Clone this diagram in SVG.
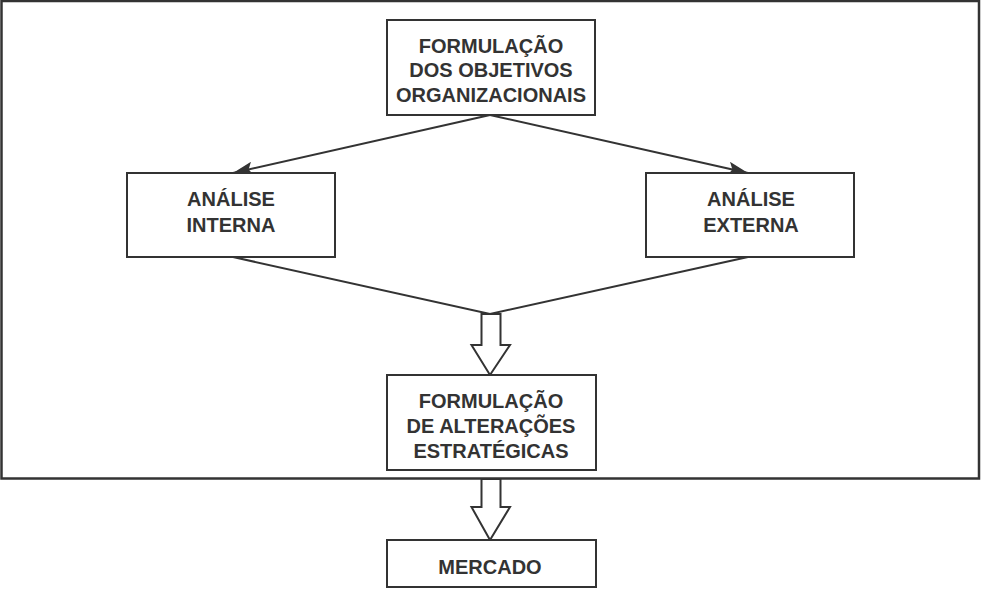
<svg xmlns="http://www.w3.org/2000/svg" width="981" height="589" viewBox="0 0 981 589">
<defs>
<style>
.box{fill:#fff;stroke:#333;stroke-width:2}
.ln{fill:none;stroke:#333;stroke-width:2}
.hollow{fill:#fff;stroke:#333;stroke-width:2;stroke-linejoin:miter}
text{font-family:"Liberation Sans",Arial,sans-serif;font-weight:bold;font-size:20px;fill:#333;text-anchor:middle}
</style>
<marker id="ah" markerWidth="22" markerHeight="14" refX="20" refY="7" orient="auto" markerUnits="userSpaceOnUse">
<path d="M0,0 L20,7 L0,14 L4,7 Z" fill="#333"/>
</marker>
</defs>
<rect width="981" height="589" fill="#fff"/>
<rect x="1.5" y="1" width="977.5" height="477.5" fill="none" stroke="#333" stroke-width="2.5"/>
<g id="connectors">
<line class="ln" x1="490" y1="115" x2="233" y2="173" marker-end="url(#ah)"/>
<line class="ln" x1="490" y1="115" x2="748" y2="173" marker-end="url(#ah)"/>
<polyline class="ln" points="233,257 490,314 748,257"/>
<path class="hollow" d="M481.5,314 L500.5,314 L500.5,345 L510,345 L490,375 L471.5,345 L481.5,345 Z"/>
<path class="hollow" d="M481.5,479 L500.5,479 L500.5,507 L510,507 L490,540 L471.5,507 L481.5,507 Z"/>
</g>
<g id="n1">
<rect class="box" x="387" y="20" width="208" height="95"/>
<text x="491" y="52.5">FORMULAÇÃO</text>
<text x="491" y="77">DOS OBJETIVOS</text>
<text x="491" y="101.5">ORGANIZACIONAIS</text>
</g>
<g id="n2">
<rect class="box" x="127" y="173" width="208" height="84"/>
<text x="231" y="206">ANÁLISE</text>
<text x="231" y="232">INTERNA</text>
</g>
<g id="n3">
<rect class="box" x="646" y="173" width="208" height="84"/>
<text x="751" y="206">ANÁLISE</text>
<text x="751" y="232">EXTERNA</text>
</g>
<g id="n4">
<rect class="box" x="387" y="375" width="209" height="95"/>
<text x="491" y="408">FORMULAÇÃO</text>
<text x="491" y="433">DE ALTERAÇÕES</text>
<text x="491" y="458">ESTRATÉGICAS</text>
</g>
<g id="n5">
<rect class="box" x="387" y="540" width="209" height="47"/>
<text x="490" y="573.5">MERCADO</text>
</g>
</svg>
